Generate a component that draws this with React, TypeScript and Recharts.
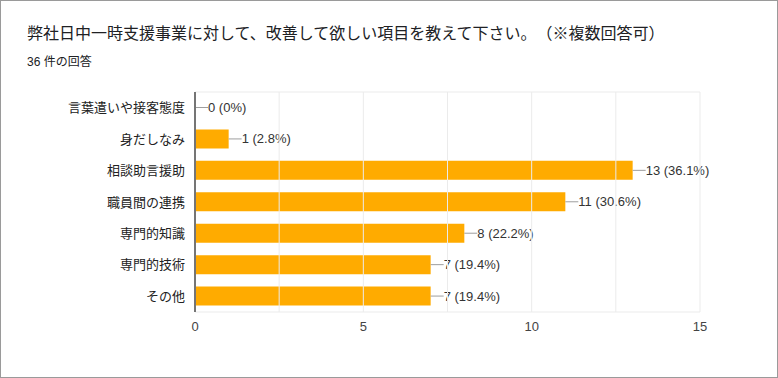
import React from 'react';
import {
  BarChart,
  Bar,
  XAxis,
  YAxis,
  CartesianGrid,
  ReferenceLine,
  Rectangle,
} from 'recharts';

const categories = [
  '言葉遣いや接客態度',
  '身だしなみ',
  '相談助言援助',
  '職員間の連携',
  '専門的知識',
  '専門的技術',
  'その他',
];
const counts = [0, 1, 13, 11, 8, 7, 7];
const percents = ['0%', '2.8%', '36.1%', '30.6%', '22.2%', '19.4%', '19.4%'];
const xTicks = [0, 5, 10, 15];
const gridLines = [2.5, 5, 7.5, 10, 12.5, 15];

const data = categories.map((name, i) => ({
  name,
  count: counts[i],
  label: `${counts[i]} (${percents[i]})`,
}));

const FONT = "'Liberation Sans', Arial, 'Noto Sans CJK JP', sans-serif";
const BAR_COLOR = '#ffab00';

// bar + leader line + value label, drawn together so the 0 row still gets its label
const BarWithLabel = (props: any) => {
  const { x, y, width, height, payload } = props;
  const w = Math.max(0, Number(width) || 0);
  const endX = Number(x) + w;
  const midY = Number(y) + Number(height) / 2;
  return (
    <g>
      {w > 0 && <Rectangle x={x} y={y} width={w} height={height} fill={BAR_COLOR} />}
      <line x1={endX} y1={midY} x2={endX + 13} y2={midY} stroke="#9e9e9e" strokeWidth={1} />
      <text x={endX + 13} y={midY} dy="0.35em" fontSize={13} fill="#333" fontFamily={FONT}>
        {payload.label}
      </text>
    </g>
  );
};

export default function App() {
  return (
    <div
      style={{
        position: 'fixed',
        left: 0,
        top: 0,
        width: 778,
        height: 378,
        boxSizing: 'border-box',
        border: '1px solid #9a9a9a',
        background: '#fff',
        fontFamily: FONT,
      }}
    >
      <div
        style={{
          position: 'absolute',
          left: 26,
          top: 23,
          fontSize: 16,
          lineHeight: '20px',
          color: '#202124',
          whiteSpace: 'nowrap',
          textSpacingTrim: 'space-all',
        } as any}
      >
        弊社日中一時支援事業に対して、改善して欲しい項目を教えて下さい。（※複数回答可）
      </div>
      <div
        style={{
          position: 'absolute',
          left: 26,
          top: 53,
          fontSize: 12,
          lineHeight: '16px',
          color: '#202124',
        }}
      >
        36 件の回答
      </div>
      <div style={{ position: 'absolute', left: -1, top: -1 }}>
        <BarChart
          width={778}
          height={378}
          data={data}
          layout="vertical"
          margin={{ top: 92, right: 78, left: 15, bottom: 36 }}
          barCategoryGap={0}
        >
          <CartesianGrid
            stroke="#ebebeb"
            vertical={false}
            horizontalCoordinatesGenerator={({ offset }: any) => [offset.top, offset.top + offset.height]}
          />
          {gridLines.map((v) => (
            <ReferenceLine key={v} x={v} stroke="#ebebeb" strokeWidth={1} />
          ))}
          <XAxis
            type="number"
            domain={[0, 15]}
            ticks={xTicks}
            axisLine={false}
            tickLine={false}
            tickSize={0}
            tickMargin={10}
            height={30}
            tick={{ fontSize: 13, fill: '#444', fontFamily: FONT }}
          />
          <YAxis
            type="category"
            dataKey="name"
            width={180}
            axisLine={{ stroke: '#757575', strokeWidth: 2 }}
            tickLine={false}
            tickSize={0}
            tickMargin={10}
            tick={{ fontSize: 13, fill: '#222', fontFamily: FONT }}
            interval={0}
          />
          <Bar
            dataKey="count"
            fill={BAR_COLOR}
            barSize={19}
            shape={BarWithLabel}
            isAnimationActive={false}
          />
        </BarChart>
      </div>
    </div>
  );
}
